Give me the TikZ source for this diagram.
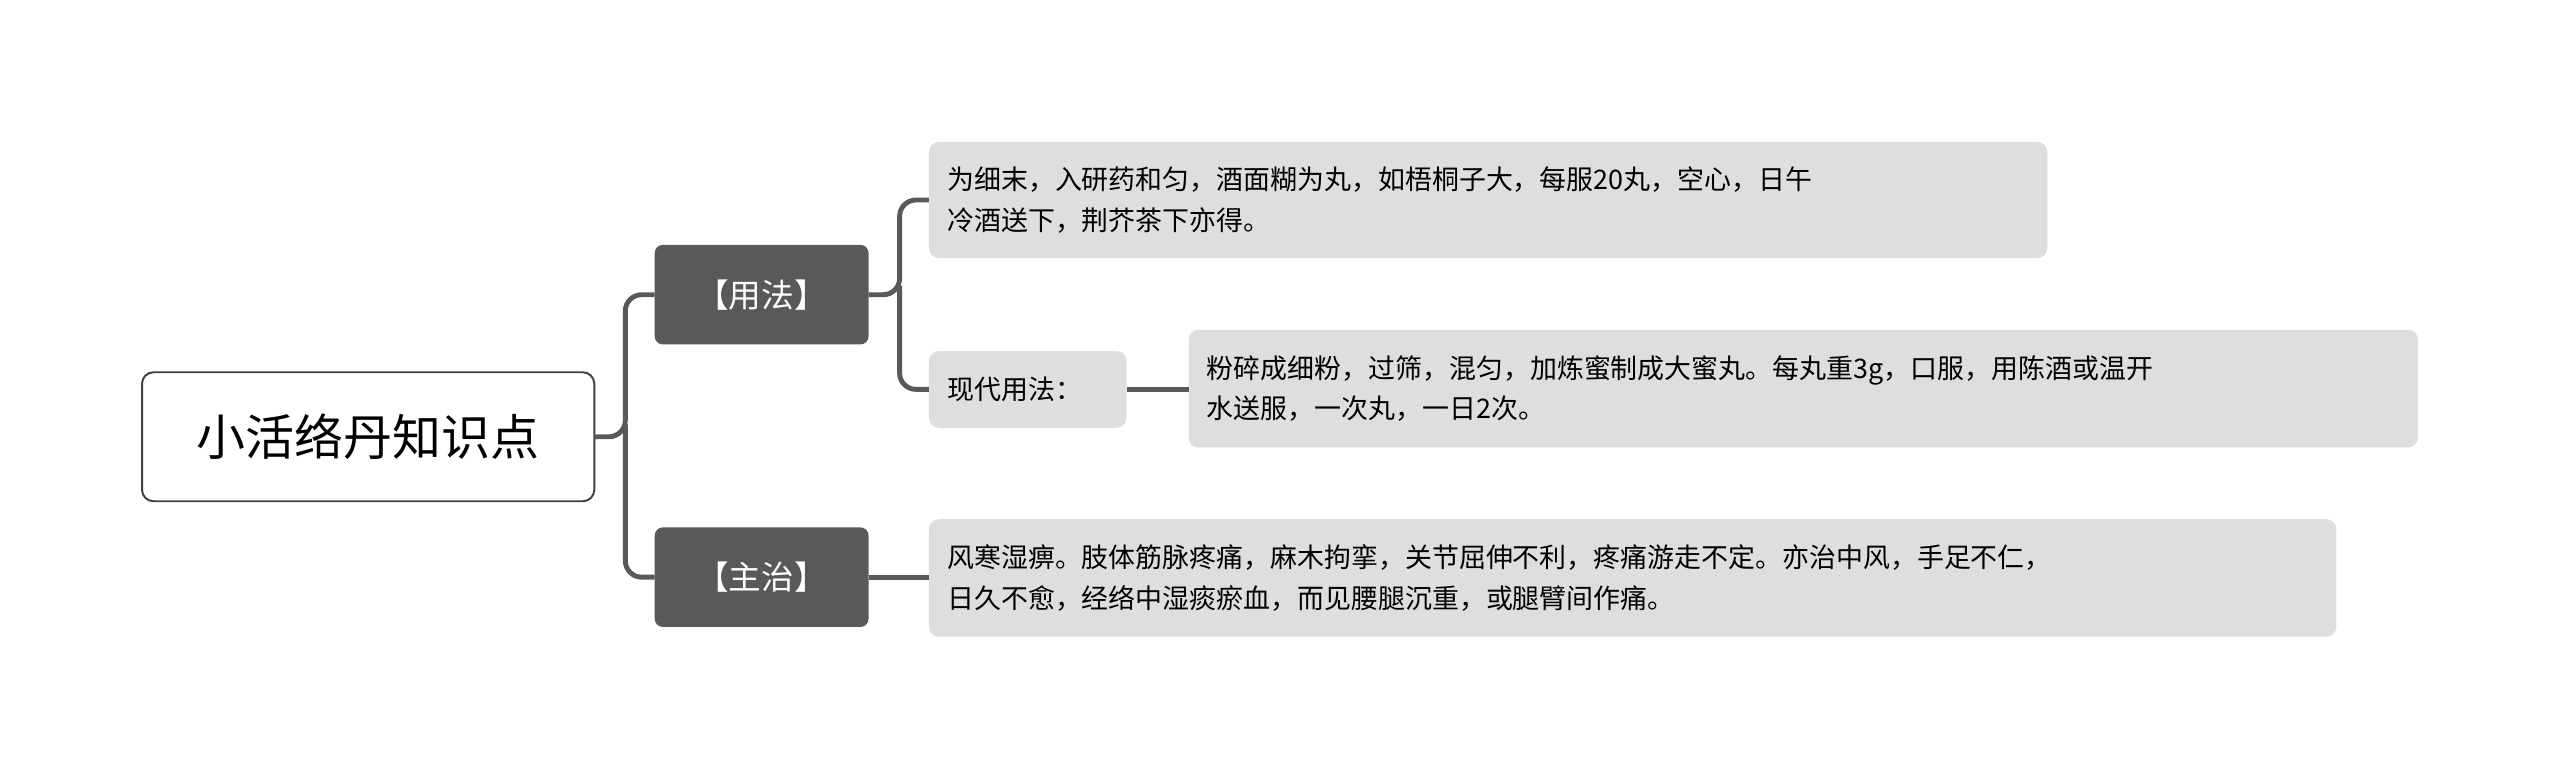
\documentclass[tikz,border=0pt]{standalone}
\usepackage{fontspec}
\setmainfont{Noto Sans CJK SC}
\begin{document}
\begin{tikzpicture}[x=1pt,y=-1pt,
  dark/.style={fill=black!65,text=white,rounded corners=5pt,font=\fontsize{20}{24}\selectfont},
  leaf/.style={fill=black!13,rounded corners=6pt,font=\fontsize{16.5}{25}\selectfont,align=left,anchor=west,inner sep=0pt},
  conn/.style={draw=black!65,line width=3pt,rounded corners=10pt}]
\useasboundingbox (0,0) rectangle (1568,477);
\draw[draw=black!75,line width=1.2pt,fill=white,rounded corners=7pt] (87,228) rectangle (364,307);
\node (root) at (225.5,267.5) {\fontsize{30}{36}\selectfont 小活络丹知识点};
\coordinate (rootR) at (364,267.5);
\fill[black!65,rounded corners=5pt] (401,150) rectangle (532,211);
\node[text=white,font=\fontsize{20}{24}\selectfont] (yf) at (466.5,180.5) {【用法】};
\fill[black!65,rounded corners=5pt] (401,323) rectangle (532,384);
\node[text=white,font=\fontsize{20}{24}\selectfont] (zz) at (466.5,353.5) {【主治】};
\fill[black!13,rounded corners=6pt] (569,87) rectangle (1254,158);
\node[leaf] (t1) at (580,122.5) {为细末，入研药和匀，酒面糊为丸，如梧桐子大，每服20丸，空心，日午\\冷酒送下，荆芥茶下亦得。};
\fill[black!13,rounded corners=6pt] (569,215) rectangle (690,262);
\node[leaf] (xd) at (580,238.5) {现代用法：};
\fill[black!13,rounded corners=6pt] (728,202) rectangle (1481,274);
\node[leaf] (t2) at (739,238) {粉碎成细粉，过筛，混匀，加炼蜜制成大蜜丸。每丸重3g，口服，用陈酒或温开\\水送服，一次丸，一日2次。};
\fill[black!13,rounded corners=6pt] (569,318) rectangle (1431,390);
\node[leaf] (t3) at (580,354) {风寒湿痹。肢体筋脉疼痛，麻木拘挛，关节屈伸不利，疼痛游走不定。亦治中风，手足不仁，\\日久不愈，经络中湿痰瘀血，而见腰腿沉重，或腿臂间作痛。};
\draw[conn] (rootR) -- (383,267.5) -- (383,180.5) -- (401,180.5);
\draw[conn] (383,260) -- (383,353.5) -- (401,353.5);
\draw[conn] (532,180.5) -- (551,180.5) |- (569,122.5);
\draw[conn] (551,175) |- (569,238.5);
\draw[conn] (690,238.5) -- (728,238.5);
\draw[conn] (532,353.5) -- (569,353.5);
\end{tikzpicture}
\end{document}
